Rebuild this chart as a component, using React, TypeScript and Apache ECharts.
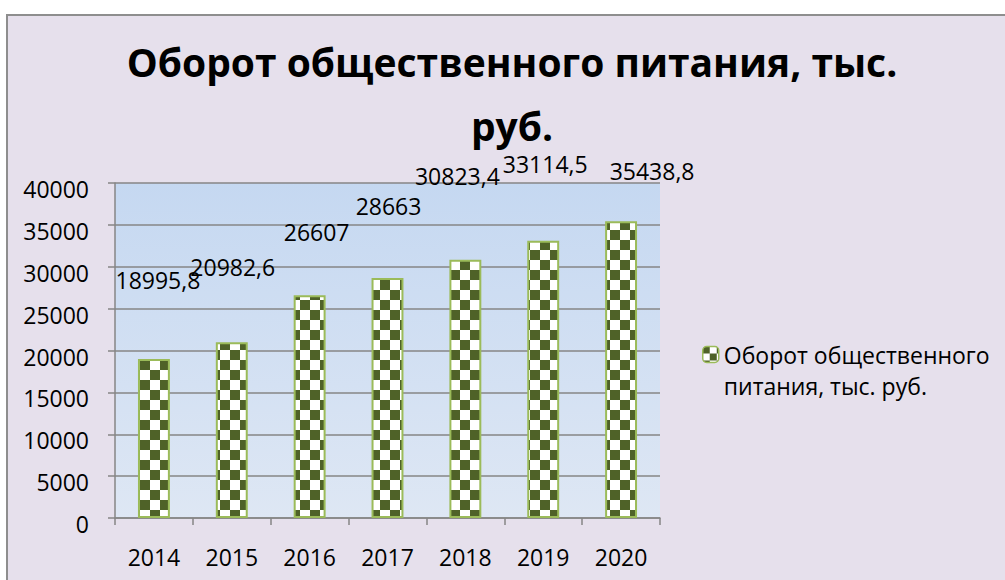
import React, { useEffect, useRef } from "react";
import * as echarts from "echarts";

const years = ["2014", "2015", "2016", "2017", "2018", "2019", "2020"];
const turnover = [18995.8, 20982.6, 26607, 28663, 30823.4, 33114.5, 35438.8];
const seriesName = "Оборот общественного питания, тыс. руб.";
const titleLines = ["Оборот общественного питания, тыс.", "руб."];
const Y_MIN = 0;
const Y_MAX = 40000;
const Y_STEP = 5000;

// label placement quirks (px offsets from the bar's top centre)
const labelOffsets = [
  [4, -79],
  [1, -75],
  [7, -63],
  [1, -72],
  [-8, -84],
  [2, -77],
  [31, -50],
];

function makeChecker(cell: number): HTMLCanvasElement {
  const c = document.createElement("canvas");
  c.width = cell * 2;
  c.height = cell * 2;
  const ctx = c.getContext("2d")!;
  ctx.fillStyle = "#ffffff";
  ctx.fillRect(0, 0, cell * 2, cell * 2);
  ctx.fillStyle = "#4F6228";
  ctx.fillRect(0, 0, cell, cell);
  ctx.fillRect(cell, cell, cell, cell);
  return c;
}

const fmt = (v: number) => String(v).replace(".", ",");

export default function App() {
  const ref = useRef<HTMLDivElement>(null);
  useEffect(() => {
    if (!ref.current) return;
    const chart = echarts.init(ref.current, undefined, { renderer: "svg" });
    const checker = makeChecker(10);
    const smallChecker = makeChecker(7);
    const font = "'Open Sans', 'Noto Sans', sans-serif";
    const option: any = {
      animation: false,
      backgroundColor: "#ffffff",
      graphic: [
        {
          type: "rect",
          z: -100,
          shape: { x: 7, y: 15, width: 1020, height: 600 },
          style: { fill: "#E6E0EC", stroke: "#8E8E8E", lineWidth: 2 },
        },
        {
          type: "text",
          x: 512,
          y: 29,
          z: 10,
          style: {
            text: titleLines.join("\n"),
            align: "center",
            verticalAlign: "top",
            fontFamily: font,
            fontWeight: "bold",
            fontSize: 39,
            lineHeight: 64,
            fill: "#000",
          },
        },
      ],
      legend: {
        orient: "vertical",
        left: 702,
        top: 308,
        padding: 0,
        itemWidth: 16,
        itemHeight: 16,
        itemGap: 0,
        data: [seriesName],
        itemStyle: {
          color: { image: smallChecker, repeat: "repeat" },
          borderColor: "#9BBB59",
          borderWidth: 1.5,
        },
        formatter: (name: string) => {
          const i = name.indexOf(" ", name.indexOf(" ") + 1);
          return "\n" + name.slice(0, i) + "\n" + name.slice(i + 1);
        },
        textStyle: {
          fontFamily: font,
          fontSize: 23,
          lineHeight: 31,
          color: "#000",
        },
      },
      grid: {
        left: 115,
        right: 345,
        top: 183,
        bottom: 62,
        show: true,
        borderWidth: 0,
        backgroundColor: {
          type: "linear",
          x: 0,
          y: 0,
          x2: 0,
          y2: 1,
          colorStops: [
            { offset: 0, color: "#C5D8F1" },
            { offset: 1, color: "#DEE7F4" },
          ],
        },
      },
      xAxis: {
        type: "category",
        data: years,
        boundaryGap: true,
        axisLine: { show: true, lineStyle: { color: "#868686", width: 1.5 } },
        axisTick: {
          show: true,
          length: 7,
          alignWithLabel: false,
          lineStyle: { color: "#868686", width: 1.5 },
        },
        axisLabel: {
          margin: 27,
          fontFamily: font,
          fontSize: 23,
          color: "#000",
        },
      },
      yAxis: {
        type: "value",
        min: Y_MIN,
        max: Y_MAX,
        interval: Y_STEP,
        axisLine: { show: true, lineStyle: { color: "#868686", width: 1.5 } },
        axisTick: {
          show: true,
          length: 7,
          lineStyle: { color: "#868686", width: 1.5 },
        },
        splitLine: { show: true, lineStyle: { color: "#868686", width: 1.6 } },
        axisLabel: {
          margin: 26,
          fontFamily: font,
          fontSize: 23,
          color: "#000",
          verticalAlign: "top",
          lineHeight: 12,
          formatter: (v: number) => String(v),
        },
      },
      series: [
        {
          name: seriesName,
          type: "bar",
          barWidth: "41%",
          data: turnover.map((v, i) => ({
            value: v,
            label: { offset: labelOffsets[i] },
          })),
          itemStyle: {
            color: { image: checker, repeat: "repeat" },
            borderColor: "#9BBB59",
            borderWidth: 2,
          },
          label: {
            show: true,
            position: "top",
            distance: 0,
            verticalAlign: "middle",
            align: "center",
            fontFamily: font,
            fontSize: 23,
            color: "#000",
            formatter: (p: any) => fmt(p.value),
          },
        },
      ],
    };
    chart.setOption(option);
    return () => chart.dispose();
  }, []);
  return (
    <div
      ref={ref}
      style={{ position: "fixed", left: 0, top: 0, width: 1005, height: 580 }}
    />
  );
}
